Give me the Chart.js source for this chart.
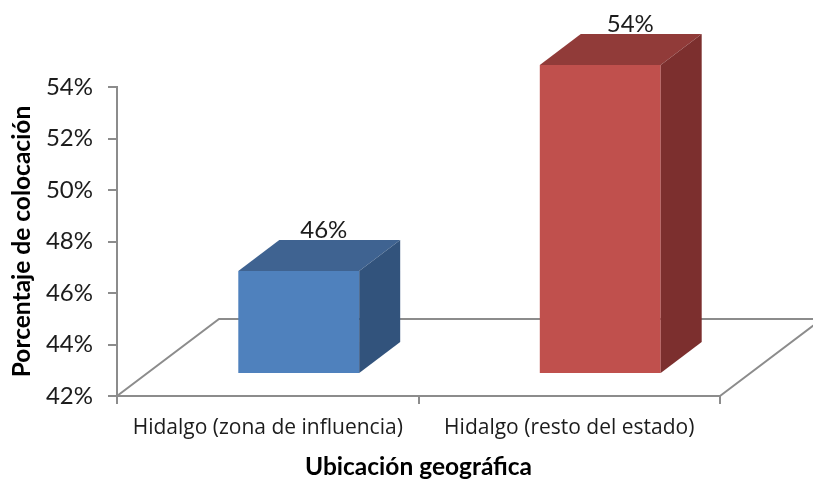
<!DOCTYPE html>
<html>
<head>
<meta charset="utf-8">
<title>Colocación por ubicación geográfica</title>
<script src="https://cdn.jsdelivr.net/npm/chart.js@4"></script>
<style>
  html, body { margin: 0; padding: 0; background: #fff; }
  canvas { display: block; }
</style>
</head>
<body>
<canvas id="colocacionChart" width="813" height="480"></canvas>
<script>
const categories = ['Hidalgo (zona de influencia)', 'Hidalgo (resto del estado)'];
const values = [46, 54];
const yMin = 42;
const yMax = 54;
const yStep = 2;

const frontColors = ['#4f81bd', '#c0504d'];
const topColors = ['#3f6391', '#913b39'];
const sideColors = ['#32537c', '#7c2f2e'];

const axisColor = '#8c8c8c';
const textColor = '#1c1c1c';

// depth of the floor and of the bars, in px
const floorDepth = { x: 102, y: 77 };
const barDepth = { x: 41, y: 31 };
const barShift = { x: 31, y: -22 }; // bars stand in the middle of the floor
const labelNudge = [25, 30];

function face(ctx, color, pts) {
  ctx.fillStyle = color;
  ctx.beginPath();
  pts.forEach((p, i) => (i ? ctx.lineTo(p[0], p[1]) : ctx.moveTo(p[0], p[1])));
  ctx.closePath();
  ctx.fill();
}

const fake3d = {
  id: 'fake3d',
  beforeDatasetsDraw(chart) {
    // floor outline
    const ctx = chart.ctx;
    const { left, right, bottom } = chart.chartArea;
    ctx.save();
    ctx.strokeStyle = axisColor;
    ctx.lineWidth = 2;
    ctx.beginPath();
    ctx.moveTo(left, bottom);
    ctx.lineTo(left + floorDepth.x, bottom - floorDepth.y);
    ctx.lineTo(chart.width + 10, bottom - floorDepth.y);
    ctx.moveTo(right, bottom);
    ctx.lineTo(right + floorDepth.x, bottom - floorDepth.y);
    ctx.stroke();
    ctx.restore();
  },
  beforeDatasetDraw(chart) {
    // library draws the front of each bar, shifted onto the floor
    chart.ctx.save();
    chart.ctx.translate(barShift.x, barShift.y);
  },
  afterDatasetDraw(chart, args) {
    const ctx = chart.ctx;
    args.meta.data.forEach((bar, i) => {
      const l = bar.x - bar.width / 2;
      const r = bar.x + bar.width / 2;
      const dx = barDepth.x;
      const dy = barDepth.y;
      face(ctx, topColors[i], [[l, bar.y], [l + dx, bar.y - dy], [r + dx, bar.y - dy], [r, bar.y]]);
      face(ctx, sideColors[i], [[r, bar.y], [r + dx, bar.y - dy], [r + dx, bar.base - dy], [r, bar.base]]);
      // value label over the top face
      ctx.fillStyle = textColor;
      ctx.font = '24px Lato';
      ctx.textAlign = 'center';
      ctx.textBaseline = 'alphabetic';
      ctx.fillText(values[i] + '%', bar.x + labelNudge[i], bar.y - dy - 2);
    });
    ctx.restore();
  }
};

new Chart(document.getElementById('colocacionChart'), {
  type: 'bar',
  data: {
    labels: categories,
    datasets: [{
      data: values,
      backgroundColor: frontColors,
      borderWidth: 0,
      base: yMin,
      barPercentage: 0.401,
      categoryPercentage: 1,
      clip: false
    }]
  },
  options: {
    responsive: false,
    animation: false,
    layout: { padding: { top: 87, right: 93, bottom: 0, left: 0 } },
    plugins: { legend: { display: false }, tooltip: { enabled: false } },
    scales: {
      x: {
        afterFit(scale) { scale.height = 84; },
        border: { color: axisColor, width: 2 },
        grid: { drawOnChartArea: false, color: axisColor, lineWidth: 2, tickLength: 8 },
        ticks: { color: textColor, font: { family: 'Open Sans', size: 21 }, padding: 11, maxRotation: 0 },
        title: {
          display: true,
          text: 'Ubicación geográfica',
          color: '#000',
          font: { family: 'Lato', size: 24.5, weight: 'bold' },
          padding: { top: 0, bottom: -2 }
        }
      },
      y: {
        min: yMin,
        max: yMax,
        afterFit(scale) { scale.width = 117; },
        border: { color: axisColor, width: 2 },
        grid: { drawOnChartArea: false, color: axisColor, lineWidth: 2, tickLength: 9 },
        ticks: {
          stepSize: yStep,
          color: textColor,
          font: { family: 'Lato', size: 24 },
          padding: 15,
          callback: v => v + '%'
        },
        title: {
          display: true,
          text: 'Porcentaje de colocación',
          color: '#000',
          font: { family: 'Lato', size: 24.5, weight: 'bold' },
          padding: { top: 7, bottom: 0 }
        }
      }
    }
  },
  plugins: [fake3d]
});
</script>
</body>
</html>
